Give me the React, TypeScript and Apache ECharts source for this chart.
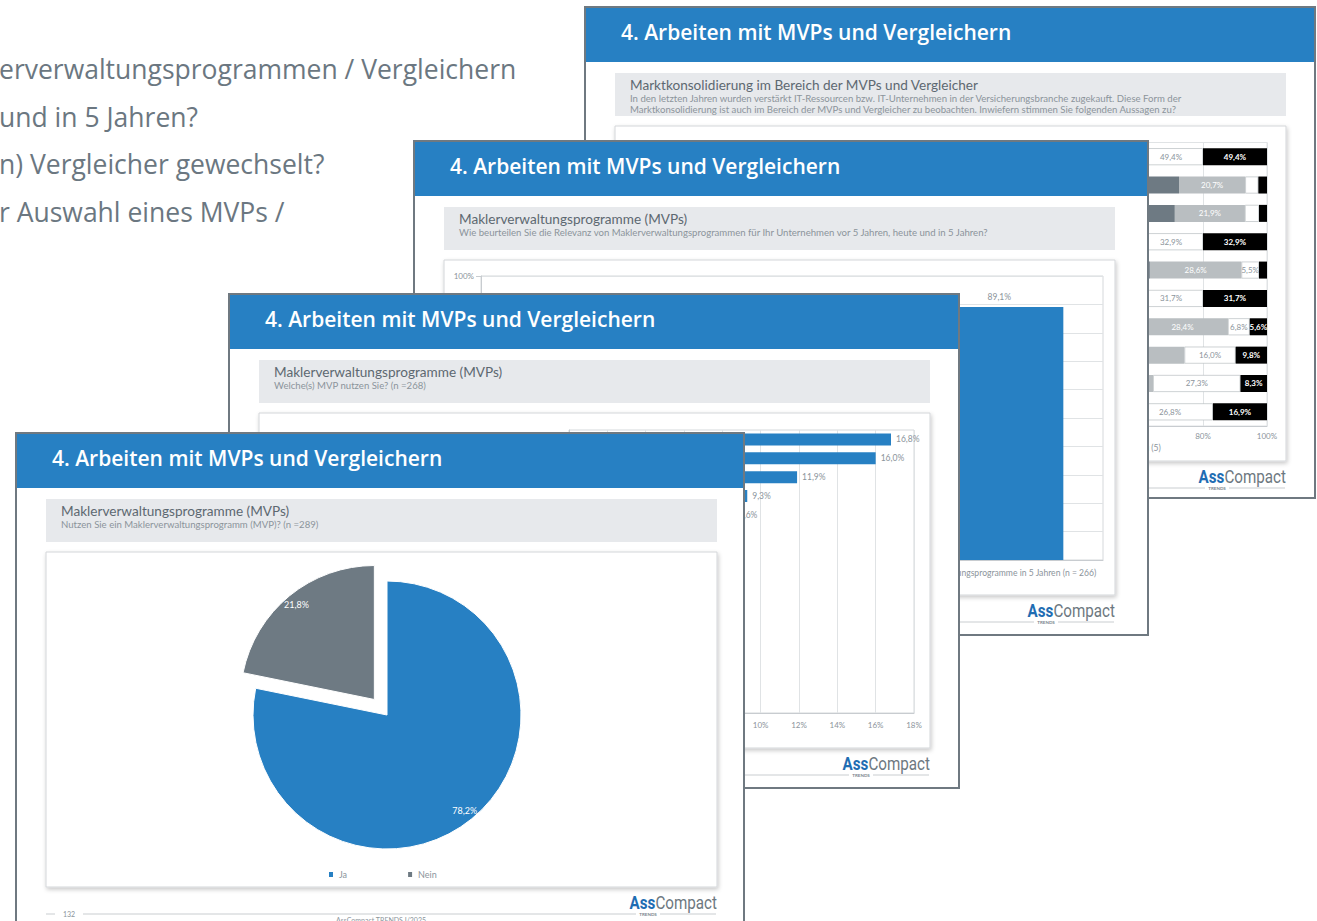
import React, { useEffect, useRef } from "react";
import * as echarts from "echarts";

// ---------------- data ----------------
const pageTextLines = [
  "erverwaltungsprogrammen / Vergleichern",
  "und in 5 Jahren?",
  "n) Vergleicher gewechselt?",
  "r Auswahl eines MVPs /",
];

const slideTitle = "4. Arbeiten mit MVPs und Vergleichern";

// Slide A – Marktkonsolidierung (100 % stacked bars)
const consolidationSubtitle = "Marktkonsolidierung im Bereich der MVPs und Vergleicher";
const consolidationDesc = [
  "In den letzten Jahren wurden verstärkt IT-Ressourcen bzw. IT-Unternehmen in der Versicherungsbranche zugekauft. Diese Form der",
  "Marktkonsolidierung ist auch im Bereich der MVPs und Vergleicher zu beobachten. Inwiefern stimmen Sie folgenden Aussagen zu?",
];
const consolidationStatements = [
  "Aussage 1", "Aussage 2", "Aussage 3", "Aussage 4", "Aussage 5",
  "Aussage 6", "Aussage 7", "Aussage 8", "Aussage 9", "Aussage 10",
];
const consolidationLegend = [
  "trifft voll zu (1)",
  "(2)",
  "(3)",
  "(4)",
  "trifft gar nicht zu (5)",
];
const consolidationSeg1 = [30, 37.4, 38.0, 30, 33.0, 30, 30.0, 22.0, 20.0, 18.0];
const consolidationSeg2 = [30, 35.1, 33.2, 30, 30.4, 30, 29.4, 24.0, 22.0, 20.0];
const consolidationSeg3 = [0, 20.7, 21.9, 0, 28.6, 0, 28.4, 28.2, 22.4, 18.3];
const consolidationSeg4 = [20, 4.1, 4.4, 20, 5.5, 20, 6.8, 16.0, 27.3, 26.8];
const consolidationSeg5 = [20, 2.7, 2.5, 20, 2.5, 20, 5.4, 9.8, 8.3, 16.9];
const consolidationLabels1 = ["", "", "", "", "", "", "", "", "", ""];
const consolidationLabels2 = ["", "", "", "", "", "", "", "", "", ""];
const consolidationLabels3 = ["", "20,7%", "21,9%", "", "28,6%", "", "28,4%", "", "", ""];
const consolidationLabels4 = ["49,4%", "", "", "32,9%", "5,5%", "31,7%", "6,8%", "16,0%", "27,3%", "26,8%"];
const consolidationLabels5 = ["49,4%", "", "", "32,9%", "", "31,7%", "5,6%", "9,8%", "8,3%", "16,9%"];

// Slide B – Relevanz
const relevanceSubtitle = "Maklerverwaltungsprogramme (MVPs)";
const relevanceDesc = [
  "Wie beurteilen Sie die Relevanz von Maklerverwaltungsprogrammen für Ihr Unternehmen vor 5 Jahren, heute und in 5 Jahren?",
];
const relevanceCategories = [
  "vor 5 Jahren",
  "heute",
  "Maklerverwaltungsprogramme in 5 Jahren (n = 266)",
];
const relevanceValues = [58.6, 80.5, 89.1];

// Slide C – Welche MVPs
const usageSubtitle = "Maklerverwaltungsprogramme (MVPs)";
const usageDesc = ["Welche(s) MVP nutzen Sie? (n =268)"];
const usageCategories = [
  "Professional works", "Ameise", "keasy", "Smart Insurance", "AMS",
  "MVP Pro", "b-tix", "Simplr", "Assfinet", "Levelnine",
  "innosystems", "Finanzplan", "Wisy", "FondsNet", "Sonstige",
];
const usageValues = [16.8, 16.0, 11.9, 9.3, 8.6, 6.0, 5.2, 4.5, 4.1, 3.4, 2.6, 2.2, 1.9, 1.5, 1.1];

// Slide D – Pie
const pieSubtitle = "Maklerverwaltungsprogramme (MVPs)";
const pieDesc = ["Nutzen Sie ein Maklerverwaltungsprogramm (MVP)? (n =289)"];
const pieNames = ["Ja", "Nein"];
const pieValues = [78.2, 21.8];

// ---------------- styles ----------------
const FONT = "Lato, 'Noto Sans', sans-serif";
const HEAD_FONT = "'Open Sans', Lato, sans-serif";
const LOGO_FONT = "Roboto, 'Noto Sans', sans-serif";
const BLUE = "#2780c3";
const DARK = "#6e7a83";
const LIGHT = "#b9bec1";
const GRAYTEXT = "#8b949b";
const TITLEGRAY = "#5d6871";
const GRIDLINE = "#e0e3e5";

const fmt = (v: number) => v.toFixed(1).replace(".", ",") + "%";

function slideGraphics(
  w: number,
  h: number,
  subtitle: string,
  desc: string[],
  extra?: { pageNumber?: string; footerText?: string }
) {
  const els: any[] = [];
  els.push({ type: "rect", z: -30, shape: { x: 1, y: 1, width: w - 2, height: h - 2 }, style: { fill: "#fff", stroke: "#6f7981", lineWidth: 2 } });
  els.push({ type: "rect", z: -29, shape: { x: 2, y: 2, width: w - 4, height: 54 }, style: { fill: BLUE } });
  els.push({ type: "text", z: -28, x: 37, y: 26, style: { text: slideTitle, fill: "#fff", fontSize: 21, fontWeight: 600, fontFamily: HEAD_FONT, verticalAlign: "middle" } });
  els.push({ type: "rect", z: -29, shape: { x: 31, y: 67, width: 671, height: 43 }, style: { fill: "#e7e9ec" } });
  els.push({ type: "text", z: -28, x: 46, y: 79, style: { text: subtitle, fill: TITLEGRAY, fontSize: 13.6, fontFamily: FONT, verticalAlign: "middle" } });
  desc.forEach((d, i) => {
    els.push({ type: "text", z: -28, x: 46, y: 92.5 + i * 10.5, style: { text: d, fill: GRAYTEXT, fontSize: 9.6, fontFamily: FONT, verticalAlign: "middle" } });
  });
  els.push({
    type: "rect", z: -27, shape: { x: 31, y: 120, width: 671, height: 335 },
    style: { fill: "#fff", stroke: "#d3d6d9", lineWidth: 1, shadowBlur: 4, shadowColor: "rgba(0,0,0,0.22)", shadowOffsetX: 1, shadowOffsetY: 2 },
  });
  // footer line + logo
  const fy = 482;
  if (extra && extra.pageNumber) {
    els.push({ type: "line", z: -28, shape: { x1: 31, y1: fy, x2: 40, y2: fy }, style: { stroke: "#c9cdd0", lineWidth: 1 } });
    els.push({ type: "text", z: -28, x: 54, y: fy, style: { text: extra.pageNumber, fill: GRAYTEXT, fontSize: 7, fontFamily: FONT, align: "center", verticalAlign: "middle" } });
    els.push({ type: "line", z: -28, shape: { x1: 68, y1: fy, x2: 621, y2: fy }, style: { stroke: "#c9cdd0", lineWidth: 1 } });
  } else {
    els.push({ type: "line", z: -28, shape: { x1: 31, y1: fy, x2: 621, y2: fy }, style: { stroke: "#c9cdd0", lineWidth: 1 } });
  }
  els.push({ type: "line", z: -28, shape: { x1: 645, y1: fy, x2: 701, y2: fy }, style: { stroke: "#c9cdd0", lineWidth: 1 } });
  els.push({ type: "text", z: -28, x: 633, y: fy, style: { text: "TRENDS", fill: "#7b868e", fontSize: 4.5, fontFamily: FONT, fontWeight: "bold", align: "center", verticalAlign: "middle" } });
  els.push({
    type: "text", z: -28, x: 702, y: 470, scaleX: 0.8,
    style: {
      text: "{a|Ass}{b|Compact}", align: "right", verticalAlign: "middle",
      rich: {
        a: { fill: "#1f6db3", fontSize: 19, fontWeight: "bold", fontFamily: LOGO_FONT },
        b: { fill: "#6d7880", fontSize: 19, fontFamily: LOGO_FONT },
      },
    },
  });
  if (extra && extra.footerText) {
    els.push({ type: "text", z: -28, x: 366, y: 488, style: { text: extra.footerText, fill: GRAYTEXT, fontSize: 7, fontFamily: FONT, align: "center", verticalAlign: "middle" } });
  }
  return els;
}

// ---------------- layout of slides ----------------
const slideA = { left: 584, top: 6, width: 732, height: 493 };
const slideB = { left: 413, top: 140, width: 736, height: 496 };
const slideC = { left: 228, top: 293, width: 732, height: 496 };
const slideD = { left: 15, top: 432, width: 730, height: 496 };

// ---------------- options ----------------
const pageOption = {
  animation: false,
  graphic: pageTextLines.map((t, i) => ({
    type: "text",
    x: -1,
    y: 69 + i * 47.7,
    style: { text: t, fill: "#6b7781", fontSize: 26.5, fontFamily: HEAD_FONT, verticalAlign: "middle" },
  })),
};

const segColors = [BLUE, DARK, LIGHT, "#ffffff", "#000000"];
const segLabelColors = ["#fff", "#fff", "#fff", GRAYTEXT, "#fff"];
const segData = [consolidationSeg1, consolidationSeg2, consolidationSeg3, consolidationSeg4, consolidationSeg5];
const segLabels = [consolidationLabels1, consolidationLabels2, consolidationLabels3, consolidationLabels4, consolidationLabels5];

const optionA = {
  animation: false,
  graphic: slideGraphics(slideA.width, slideA.height, consolidationSubtitle, consolidationDesc),
  grid: { left: 363, top: 136.5, width: 320, height: 283.5, show: true, borderColor: GRIDLINE, borderWidth: 1, backgroundColor: "transparent" },
  legend: {
    data: consolidationLegend,
    right: 150,
    top: 432,
    icon: "rect",
    itemWidth: 6,
    itemHeight: 6,
    itemGap: 14,
    textStyle: { fontSize: 8.5, color: GRAYTEXT, fontFamily: FONT },
  },
  xAxis: {
    type: "value", min: 0, max: 100, interval: 20,
    axisLabel: { formatter: "{value}%", fontSize: 8, color: GRAYTEXT, fontFamily: FONT, margin: 6 },
    axisLine: { show: true, lineStyle: { color: "#c8ccd0" } },
    axisTick: { show: false },
    splitLine: { lineStyle: { color: GRIDLINE } },
  },
  yAxis: {
    type: "category", inverse: true, data: consolidationStatements,
    axisLabel: { show: false },
    axisTick: { show: false },
    axisLine: { lineStyle: { color: "#c8ccd0" } },
  },
  series: segData.map((d, s) => ({
    type: "bar",
    name: consolidationLegend[s],
    stack: "all",
    barWidth: 17,
    data: d,
    itemStyle: { color: segColors[s], borderColor: s === 3 ? "#b9bec2" : segColors[s], borderWidth: s === 3 ? 0.7 : 0 },
    label: {
      show: true,
      position: "inside",
      fontSize: 8,
      fontFamily: FONT,
      fontWeight: s === 4 ? "bold" : "normal",
      color: segLabelColors[s],
      formatter: (p: any) => segLabels[s][p.dataIndex],
    },
  })),
};

const optionB = {
  animation: false,
  graphic: slideGraphics(slideB.width, slideB.height, relevanceSubtitle, relevanceDesc),
  grid: { left: 68, top: 136, width: 622, height: 284, show: true, borderColor: "#d5d8db", borderWidth: 1 },
  xAxis: {
    type: "category", data: relevanceCategories,
    axisLabel: { fontSize: 8.6, color: GRAYTEXT, fontFamily: FONT, interval: 0, margin: 8 },
    axisTick: { show: false },
    axisLine: { lineStyle: { color: "#c8ccd0" } },
  },
  yAxis: {
    type: "value", min: 0, max: 100, interval: 10,
    axisLabel: { formatter: (v: number) => (v === 100 ? "100%" : ""), fontSize: 8, color: GRAYTEXT, fontFamily: FONT, margin: 7 },
    axisLine: { show: true, lineStyle: { color: "#c8ccd0" } },
    axisTick: { show: true, lineStyle: { color: "#c8ccd0" } },
    splitLine: { lineStyle: { color: GRIDLINE } },
  },
  series: [
    {
      type: "bar", barWidth: 128, data: relevanceValues,
      itemStyle: { color: BLUE },
      label: { show: true, position: "top", fontSize: 8.5, color: GRAYTEXT, fontFamily: FONT, formatter: (p: any) => fmt(p.value) },
    },
  ],
};

const optionC = {
  animation: false,
  graphic: slideGraphics(slideC.width, slideC.height, usageSubtitle, usageDesc),
  grid: { left: 341, top: 137, width: 345, height: 283, show: true, borderColor: "#d5d8db", borderWidth: 1 },
  xAxis: {
    type: "value", min: 0, max: 18, interval: 2,
    axisLabel: { formatter: "{value}%", fontSize: 8, color: GRAYTEXT, fontFamily: FONT, margin: 8 },
    axisLine: { show: true, lineStyle: { color: "#c8ccd0" } },
    axisTick: { show: false },
    splitLine: { lineStyle: { color: GRIDLINE } },
  },
  yAxis: {
    type: "category", inverse: true, data: usageCategories,
    axisLabel: { show: false },
    axisTick: { show: false },
    axisLine: { lineStyle: { color: "#c8ccd0" } },
  },
  series: [
    {
      type: "bar", barWidth: 12, data: usageValues,
      itemStyle: { color: BLUE },
      label: {
        show: true, position: "right", distance: 5, fontSize: 8.5, color: GRAYTEXT, fontFamily: FONT,
        formatter: (p: any) => (p.dataIndex < 5 ? fmt(p.value) : ""),
      },
    },
  ],
};

const pieColors = [BLUE, DARK];
const optionD = {
  animation: false,
  graphic: slideGraphics(slideD.width, slideD.height, pieSubtitle, pieDesc, { pageNumber: "132", footerText: "AssCompact TRENDS I/2025" }),
  legend: {
    data: pieNames.map((n, i) => ({ name: n, itemStyle: { color: pieColors[i] } })),
    left: 307,
    top: 433,
    icon: "rect",
    itemWidth: 6,
    itemHeight: 7,
    itemGap: 59,
    textStyle: { fontSize: 9, color: GRAYTEXT, fontFamily: FONT },
  },
  series: [
    {
      type: "pie",
      center: [372, 283],
      radius: [0, 134],
      startAngle: 90,
      clockwise: true,
      selectedMode: "single",
      selectedOffset: 20,
      label: { show: false },
      labelLine: { show: false },
      itemStyle: { borderColor: "#fff", borderWidth: 1 },
      data: pieNames.map((n, i) => ({ name: n, value: pieValues[i], selected: i === 1, itemStyle: { color: pieColors[i] } })),
    },
    {
      type: "pie",
      center: [372, 283],
      radius: [106, 134],
      startAngle: 90,
      clockwise: true,
      selectedMode: "single",
      selectedOffset: 20,
      silent: true,
      labelLine: { show: false },
      itemStyle: { color: "rgba(0,0,0,0)" },
      label: { show: true, position: "inside", fontSize: 9, color: "#fff", fontFamily: FONT, formatter: (p: any) => fmt(p.value) },
      data: pieNames.map((n, i) => ({ name: n + " ", value: pieValues[i], selected: i === 1 })),
    },
  ],
};

function EChart({ option, box }: { option: any; box: { left: number; top: number; width: number; height: number } }) {
  const ref = useRef<HTMLDivElement>(null);
  useEffect(() => {
    if (!ref.current) return;
    const chart = echarts.init(ref.current, undefined, { renderer: "svg" });
    chart.setOption(option);
    return () => chart.dispose();
  }, [option]);
  return (
    <div
      ref={ref}
      style={{ position: "absolute", left: box.left, top: box.top, width: box.width, height: box.height }}
    />
  );
}

export default function App() {
  return (
    <div
      style={{
        position: "absolute", left: 0, top: 0, width: 1317, height: 921,
        overflow: "hidden", background: "#ffffff",
      }}
    >
      <EChart option={pageOption} box={{ left: 0, top: 0, width: 1317, height: 921 }} />
      <EChart option={optionA} box={slideA} />
      <EChart option={optionB} box={slideB} />
      <EChart option={optionC} box={slideC} />
      <EChart option={optionD} box={slideD} />
    </div>
  );
}
